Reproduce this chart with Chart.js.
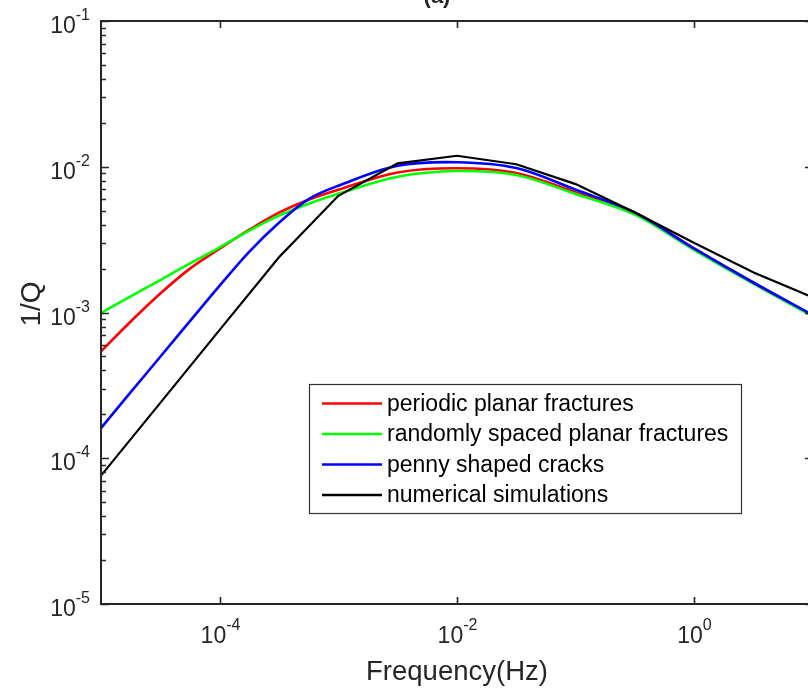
<!DOCTYPE html>
<html>
<head>
<meta charset="utf-8">
<script src="https://cdn.jsdelivr.net/npm/chart.js@4.4.0/dist/chart.umd.min.js"></script>
<style>
html,body{margin:0;padding:0;background:#fff;overflow:hidden;width:808px;height:692px;}
#wrap{position:absolute;left:0;top:0;width:830px;height:692px;}
</style>
</head>
<body>
<div id="wrap"><canvas id="c"></canvas></div>
<script>
// model curves, read every quarter / half decade
const freqModel = [1e-5, 1.78e-5, 3.16e-5, 5.62e-5, 1e-4, 1.78e-4, 3.16e-4, 5.62e-4, 1e-3, 3.16e-3, 1e-2, 3.16e-2, 0.1, 0.316, 1, 3.16, 10];
const periodic = [5.41e-4, 8.67e-4, 1.35e-3, 2.00e-3, 2.74e-3, 3.70e-3, 4.84e-3, 5.94e-3, 6.95e-3, 9.14e-3, 9.77e-3, 9.06e-3, 6.67e-3, 4.84e-3, 2.74e-3, 1.60e-3, 9.5e-4];
const randomly = [9.93e-4, 1.29e-3, 1.67e-3, 2.17e-3, 2.80e-3, 3.65e-3, 4.62e-3, 5.58e-3, 6.53e-3, 8.55e-3, 9.35e-3, 8.78e-3, 6.50e-3, 4.69e-3, 2.68e-3, 1.57e-3, 9.4e-4];
const penny = [1.61e-4, 2.84e-4, 4.97e-4, 8.73e-4, 1.53e-3, 2.62e-3, 4.13e-3, 6.0e-3, 7.41e-3, 1.016e-2, 1.074e-2, 9.79e-3, 6.95e-3, 4.84e-3, 2.74e-3, 1.60e-3, 9.6e-4];

// numerical simulation points (half decades)
const freqSim = [1e-5, 3.16e-5, 1e-4, 3.16e-4, 1e-3, 3.16e-3, 1e-2, 3.16e-2, 0.1, 0.316, 1, 3.16, 10];
const simulated = [7.6e-5, 2.4e-4, 7.6e-4, 2.39e-3, 6.32e-3, 1.055e-2, 1.19e-2, 1.04e-2, 7.6e-3, 4.85e-3, 3.0e-3, 1.88e-3, 1.27e-3];

const seriesNames = ["periodic planar fractures", "randomly spaced planar fractures", "penny shaped cracks", "numerical simulations"];
const seriesColors = ["#ff0000", "#00ff00", "#0000ff", "#000000"];

const xTicks = [1e-4, 1e-2, 1];
const yTicks = [1e-5, 1e-4, 1e-3, 1e-2, 1e-1];

const FONT = '"Liberation Sans", Arial, sans-serif';
const AX = "#262626";

const pts = (xs, ys) => xs.map((x, i) => ({x, y: ys[i]}));

function powLabel(ctx, v, x, base, align){
  const e = String(Math.round(Math.log10(v)));
  ctx.font = "23px " + FONT;
  const w1 = ctx.measureText("10").width;
  ctx.font = "16px " + FONT;
  const w2 = ctx.measureText(e).width;
  const x0 = align === "right" ? x - w1 - w2 : x - (w1 + w2)/2;
  ctx.textAlign = "left";
  ctx.textBaseline = "alphabetic";
  ctx.font = "23px " + FONT;
  ctx.fillText("10", x0, base);
  ctx.font = "16px " + FONT;
  ctx.fillText(e, x0 + w1, base - 13);
}

const matlabAxes = {
  id: "matlabAxes",
  afterDraw(chart){
    const {ctx, chartArea: a, scales} = chart;
    const sx = scales.x, sy = scales.y;
    ctx.save();
    ctx.strokeStyle = AX;
    ctx.fillStyle = AX;
    ctx.lineWidth = 2;
    ctx.strokeRect(a.left, a.top, a.right - a.left, a.bottom - a.top);

    // y ticks (major + minor), inward on both sides
    ctx.lineWidth = 1.6;
    yTicks.forEach((d, i) => {
      const ks = i < yTicks.length - 1 ? [1,2,3,4,5,6,7,8,9] : [1];
      ks.forEach(k => {
        const py = Math.round(sy.getPixelForValue(d*k)) + 0.5;
        const len = k === 1 ? 8 : 5;
        ctx.beginPath();
        ctx.moveTo(a.left, py); ctx.lineTo(a.left + len, py);
        ctx.moveTo(a.right, py); ctx.lineTo(a.right - len, py);
        ctx.stroke();
      });
      powLabel(ctx, d, 90, sy.getPixelForValue(d) + 12, "right");
    });

    xTicks.forEach(v => {
      const px = Math.round(sx.getPixelForValue(v)) + 0.5;
      ctx.beginPath();
      ctx.moveTo(px, a.bottom); ctx.lineTo(px, a.bottom - 7);
      ctx.moveTo(px, a.top); ctx.lineTo(px, a.top + 7);
      ctx.stroke();
      powLabel(ctx, v, px, 643, "center");
    });

    // axis titles
    ctx.fillStyle = AX;
    ctx.font = "27.5px " + FONT;
    ctx.textAlign = "center";
    ctx.textBaseline = "alphabetic";
    ctx.fillText("Frequency(Hz)", 457, 680);
    ctx.save();
    ctx.translate(40, 304);
    ctx.rotate(-Math.PI/2);
    ctx.font = "28px " + FONT;
    ctx.fillText("1/Q", 0, 0);
    ctx.restore();

    ctx.font = "bold 22px " + FONT;
    ctx.fillText("(a)", 437, 3);

    // legend
    const L = 309.5, T = 384.5, W = 432, H = 129;
    ctx.fillStyle = "#fff";
    ctx.fillRect(L, T, W, H);
    ctx.strokeStyle = "#333";
    ctx.lineWidth = 1.2;
    ctx.strokeRect(L, T, W, H);
    chart.data.datasets.forEach((ds, i) => {
      const cy = 403.5 + i*30.5;
      ctx.strokeStyle = ds.borderColor;
      ctx.lineWidth = 2.6;
      ctx.beginPath();
      ctx.moveTo(322, cy); ctx.lineTo(382, cy);
      ctx.stroke();
      ctx.fillStyle = "#000";
      ctx.font = "23px " + FONT;
      ctx.textAlign = "left";
      ctx.textBaseline = "middle";
      ctx.fillText(ds.label, 387, cy + 1);
    });
    ctx.restore();
  }
};

new Chart(document.getElementById("c"), {
  type: "line",
  data: {
    datasets: [
      {label: seriesNames[0], data: pts(freqModel, periodic), borderColor: seriesColors[0], tension: 0.35, borderWidth: 2.6, order: 4},
      {label: seriesNames[1], data: pts(freqModel, randomly), borderColor: seriesColors[1], tension: 0.35, borderWidth: 2.6, order: 3},
      {label: seriesNames[2], data: pts(freqModel, penny), borderColor: seriesColors[2], tension: 0.35, borderWidth: 2.6, order: 2},
      {label: seriesNames[3], data: pts(freqSim, simulated), borderColor: seriesColors[3], tension: 0, borderWidth: 2.2, order: 1}
    ]
  },
  options: {
    responsive: true,
    maintainAspectRatio: false,
    animation: false,
    events: [],
    layout: {padding: {left: 101, top: 21, right: 17, bottom: 88}},
    elements: {
      point: {radius: 0},
      line: {fill: false}
    },
    plugins: {legend: {display: false}, tooltip: {enabled: false}},
    scales: {
      x: {type: "logarithmic", min: 1e-5, max: 10, display: false},
      y: {type: "logarithmic", min: 1e-5, max: 1e-1, display: false}
    }
  },
  plugins: [matlabAxes]
});
</script>
</body>
</html>
